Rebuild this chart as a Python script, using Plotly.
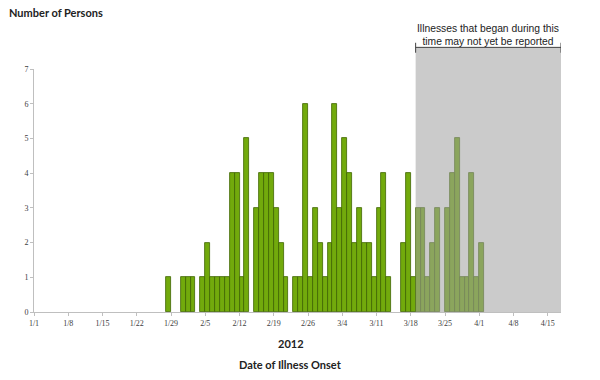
import pandas as pd
import plotly.graph_objects as go

# Illness onset dates (2012) and number of persons
onset_dates = [
    "1/28", "1/31", "2/1", "2/2", "2/4", "2/5", "2/6", "2/7", "2/8", "2/9",
    "2/10", "2/11", "2/12", "2/13", "2/15", "2/16", "2/17", "2/18", "2/19", "2/20",
    "2/21", "2/23", "2/24", "2/25", "2/26", "2/27", "2/28", "2/29", "3/1", "3/2",
    "3/3", "3/4", "3/5", "3/6", "3/7", "3/8", "3/9", "3/10", "3/11", "3/12",
    "3/13", "3/16", "3/17", "3/18", "3/19", "3/20", "3/21", "3/22", "3/23", "3/25",
    "3/26", "3/27", "3/28", "3/29", "3/30", "3/31", "4/1",
]
persons = [
    1, 1, 1, 1, 1, 2, 1, 1, 1, 1,
    4, 4, 1, 5, 3, 4, 4, 4, 3, 2,
    1, 1, 1, 6, 1, 3, 2, 1, 2, 6,
    3, 5, 4, 2, 3, 2, 2, 1, 3, 4,
    1, 2, 4, 1, 3, 3, 1, 2, 3, 3,
    4, 5, 1, 1, 4, 1, 2,
]
tick_labels = ["1/1", "1/8", "1/15", "1/22", "1/29", "2/5", "2/12", "2/19",
               "2/26", "3/4", "3/11", "3/18", "3/25", "4/1", "4/8", "4/15"]
y_ticks = [0, 1, 2, 3, 4, 5, 6, 7]
year = "2012"
not_reported_start = "3/19"   # first day of the "may not yet be reported" window
axis_start, axis_end = "1/1", "4/18"

half_day = pd.Timedelta(hours=12)
def to_date(md):
    return pd.to_datetime(f"{year}/{md}", format="%Y/%m/%d")

x_dates = [to_date(d) for d in onset_dates]
tick_vals = [to_date(t) - half_day for t in tick_labels]
x0 = to_date(axis_start) - half_day
x1 = to_date(axis_end) - pd.Timedelta(hours=19)
shade0 = to_date(not_reported_start) - half_day
shade_mid = shade0 + (x1 - shade0) / 2

fig = go.Figure()
fig.add_trace(go.Bar(
    x=x_dates, y=persons,
    width=86400000,
    marker=dict(color="#72aa0c", line=dict(color="#3f6400", width=0.8)),
    hoverinfo="x+y",
))

br_y, br_lo, br_hi = 1.089, 1.067, 1.108
shapes = [
    dict(type="rect", xref="x", yref="paper", x0=shade0, x1=x1, y0=0, y1=br_y,
         fillcolor="#a0a0a0", opacity=0.55, line=dict(width=0), layer="above"),
    dict(type="line", xref="x", yref="paper", x0=shade0, x1=x1, y0=br_y, y1=br_y,
         line=dict(color="#404040", width=1)),
    dict(type="line", xref="x", yref="paper", x0=shade0, x1=shade0, y0=br_lo, y1=br_hi,
         line=dict(color="#404040", width=1)),
    dict(type="line", xref="x", yref="paper", x0=x1, x1=x1, y0=br_lo, y1=br_hi,
         line=dict(color="#404040", width=1)),
]

annotations = [
    dict(text="Illnesses that began during this<br>time may not yet be reported",
         xref="x", yref="paper", x=shade_mid, y=1.083, xanchor="center", yanchor="bottom",
         showarrow=False, font=dict(family="Liberation Sans", size=10.3, color="#222222")),
    dict(text="<b>Number of Persons</b>", xref="paper", yref="paper",
         x=-0.05, y=1.234, xanchor="left", yanchor="middle", xshift=-1,
         showarrow=False, font=dict(family="Lato", size=11, color="#222222")),
    dict(text="<b>2012</b>", xref="paper", yref="paper",
         x=0.5, y=-0.13, xanchor="center", yanchor="middle", xshift=-7,
         showarrow=False, font=dict(family="Lato", size=11, color="#222222")),
    dict(text="<b>Date of Illness Onset</b>", xref="paper", yref="paper",
         x=0.5, y=-0.218, xanchor="center", yanchor="middle", xshift=-7,
         showarrow=False, font=dict(family="Lato", size=11, color="#222222")),
]

fig.update_layout(
    width=600, height=380,
    margin=dict(l=34, r=39, t=69, b=68),
    plot_bgcolor="white", paper_bgcolor="white",
    bargap=0, showlegend=False,
    shapes=shapes, annotations=annotations,
    xaxis=dict(type="date", range=[x0, x1], tickvals=tick_vals, ticktext=tick_labels,
               showgrid=False, showline=True, linecolor="#bfbfbf", linewidth=1,
               ticks="outside", ticklen=3, tickcolor="#bfbfbf",
               tickfont=dict(family="Liberation Serif", size=8, color="#404040"),
               zeroline=False, fixedrange=True),
    yaxis=dict(range=[0, 7], tickvals=y_ticks, showgrid=False, showline=True,
               linecolor="#bfbfbf", linewidth=1, ticks="outside", ticklen=3,
               tickcolor="#bfbfbf",
               tickfont=dict(family="Liberation Serif", size=8, color="#404040"),
               zeroline=False, fixedrange=True),
)

fig.write_html("out.html", config={"displayModeBar": False},
               post_script="document.body.style.margin='0';document.body.style.overflow='hidden';")
